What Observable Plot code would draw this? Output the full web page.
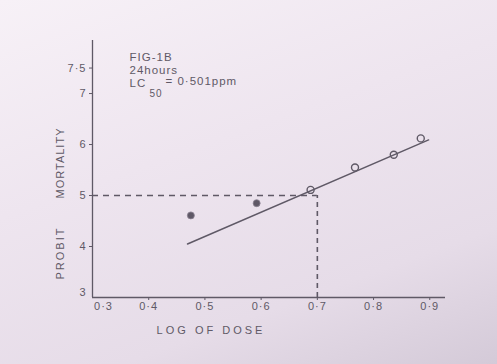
<!DOCTYPE html>
<html>
<head>
<meta charset="utf-8">
<script src="https://cdn.jsdelivr.net/npm/d3@7"></script>
<script src="https://cdn.jsdelivr.net/npm/@observablehq/plot@0.6"></script>
<style>
  html, body { margin: 0; padding: 0; }
  body {
    width: 497px; height: 364px; overflow: hidden;
    background: linear-gradient(160deg, #f7f1f7 0%, #eee5ef 40%, #e6dce8 75%, #d4cad8 100%);
  }
  #chart svg { display: block; }
  #chart svg text { letter-spacing: 1px; }
</style>
</head>
<body>
<div id="chart"></div>
<script>
// Data
const doseLog = [0.475, 0.592, 0.688, 0.767, 0.836, 0.884];
const probit = [4.61, 4.85, 5.11, 5.55, 5.80, 6.12];
const pointType = ["filled", "filled", "open", "open", "open", "open"];
const fitX = [0.469, 0.898];
const fitY = [4.05, 6.09];
const lc50Log = 0.70;
const probit50 = 5;
const xTicks = [0.3, 0.4, 0.5, 0.6, 0.7, 0.8, 0.9];
const yTicks = [3, 4, 5, 6, 7, 7.5];

const points = doseLog.map((x, i) => ({x, y: probit[i], type: pointType[i]}));
const fit = fitX.map((x, i) => ({x, y: fitY[i]}));

const ink = "#5f5966";
const font = "'Liberation Sans', 'DejaVu Sans', sans-serif";
const fmtX = d => d.toFixed(1).replace(".", "·");
const fmtY = d => String(d).replace(".", "·");

const chart = Plot.plot({
  width: 497,
  height: 364,
  marginLeft: 92,
  marginRight: 52,
  marginTop: 40,
  marginBottom: 67,
  style: {background: "transparent", color: ink, fontFamily: font, fontSize: "11px"},
  x: {domain: [0.3, 0.928], label: null},
  y: {domain: [3, 8.04], label: null},
  marks: [
    // axes (origin labels offset as in the drawing)
    Plot.axisX(xTicks.slice(1), {tickFormat: fmtX, tickSize: 3, tickPadding: 2, label: null}),
    Plot.axisX(xTicks.slice(0, 1), {tickFormat: fmtX, tickSize: 0, tickPadding: 5, dx: 11, label: null}),
    Plot.axisY(yTicks.slice(1), {tickFormat: fmtY, tickSize: 3, tickPadding: 3, label: null}),
    Plot.axisY(yTicks.slice(0, 1), {tickFormat: fmtY, tickSize: 0, tickPadding: 6, dy: -5, label: null}),
    Plot.ruleX([0.3], {stroke: ink, strokeWidth: 1.3}),
    Plot.ruleY([3], {stroke: ink, strokeWidth: 1.3}),
    // dashed LC50 guides
    Plot.ruleY([probit50], {x1: 0.3, x2: lc50Log, stroke: ink, strokeWidth: 1.4, strokeDasharray: "6,5"}),
    Plot.ruleX([lc50Log], {y1: 3, y2: probit50, stroke: ink, strokeWidth: 1.6, strokeDasharray: "5,4"}),
    // fitted line
    Plot.line(fit, {x: "x", y: "y", stroke: ink, strokeWidth: 1.5}),
    // observed points
    Plot.dot(points.filter(d => d.type === "filled"), {x: "x", y: "y", r: 3.5, fill: "#5f5866", stroke: "#8a8290", strokeWidth: 0.8}),
    Plot.dot(points.filter(d => d.type === "open"), {x: "x", y: "y", r: 3.5, fill: "none", stroke: ink, strokeWidth: 1.4}),
    // annotation
    Plot.text(["FIG-1B"], {frameAnchor: "top-left", dx: 37, dy: 12, text: d => d, textAnchor: "start", fill: ink, fontSize: 11.5}),
    Plot.text(["24hours"], {frameAnchor: "top-left", dx: 37, dy: 25, text: d => d, textAnchor: "start", fill: ink, fontSize: 11.5}),
    Plot.text(["LC"], {frameAnchor: "top-left", dx: 37, dy: 38, text: d => d, textAnchor: "start", fill: ink, fontSize: 11.5}),
    Plot.text(["50"], {frameAnchor: "top-left", dx: 57, dy: 49, text: d => d, textAnchor: "start", fill: ink, fontSize: 10}),
    Plot.text(["= 0·501ppm"], {frameAnchor: "top-left", dx: 73, dy: 36, text: d => d, textAnchor: "start", fill: ink, fontSize: 11.5}),
    // axis titles
    Plot.text(["LOG OF DOSE"], {frameAnchor: "bottom", dx: -58, dy: 36, text: d => d, textAnchor: "middle", fill: ink, fontSize: 11}),
    Plot.text(["MORTALITY"], {frameAnchor: "left", dx: -32, dy: -6, rotate: -90, textAnchor: "middle", text: d => d, fill: ink, fontSize: 11}),
    Plot.text(["PROBIT"], {frameAnchor: "left", dx: -32, dy: 84, rotate: -90, textAnchor: "middle", text: d => d, fill: ink, fontSize: 11})
  ]
});
d3.select(chart).selectAll("text").filter(function () { return this.textContent === "LOG OF DOSE"; }).style("letter-spacing", "3px");
d3.select(chart).selectAll("text").filter(function () { return this.textContent === "PROBIT"; }).style("letter-spacing", "2px");
document.getElementById("chart").appendChild(chart);
</script>
</body>
</html>
